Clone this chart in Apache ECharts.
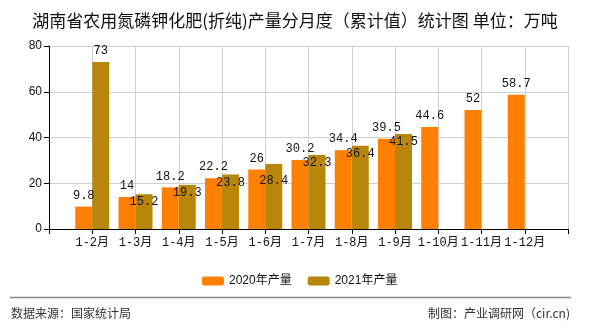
<!DOCTYPE html>
<html><head><meta charset="utf-8">
<script src="https://cdn.jsdelivr.net/npm/echarts@6/dist/echarts.min.js"></script>
<style>html,body{margin:0;padding:0;background:#fff}#c{width:590px;height:330px}</style>
</head><body><div id="c"></div>
<script>
const categories = ['', '1-2月','1-3月','1-4月','1-5月','1-6月','1-7月','1-8月','1-9月','1-10月','1-11月','1-12月', ''];
const values2020 = ['-', 9.8, 14, 18.2, 22.2, 26, 30.2, 34.4, 39.5, 44.6, 52, 58.7, '-'];
const values2021 = ['-', 73, 15.2, 19.3, 23.8, 28.4, 32.3, 36.4, 41.5, '-', '-', '-', '-'];
const yTicks = [0, 20, 40, 60, 80];
const seriesNames = ['2020年产量', '2021年产量'];

const labelOffsets2021 = [0, 0, 19, 19, 19, 28, 19, 19, 19, 0, 0, 0, 0];

const monoFont = 'Liberation Mono, Noto Sans CJK SC, monospace';
const chart = echarts.init(document.getElementById('c'), null, {renderer: 'canvas'});
chart.setOption({
  animation: false,
  backgroundColor: '#fff',
  title: {
    text: '湖南省农用氮磷钾化肥(折纯)产量分月度（累计值）统计图 单位：万吨',
    left: 'center', top: 7,
    textStyle: {fontSize: 17, fontWeight: 'normal', color: '#111', fontFamily: 'Noto Sans CJK SC'}
  },
  legend: {
    left: 197, top: 270,
    itemWidth: 22, itemHeight: 9, itemGap: 16,
    textStyle: {fontSize: 12, color: '#111', fontFamily: 'Liberation Sans, Noto Sans CJK SC'},
    data: seriesNames
  },
  grid: {left: 49, right: 22, top: 46, bottom: 101},
  xAxis: {
    type: 'category', data: categories, boundaryGap: false,
    axisLine: {lineStyle: {color: '#000', width: 1}},
    axisTick: {show: true, length: 5, lineStyle: {color: '#000'}},
    axisLabel: {interval: 0, color: '#111', fontSize: 12, fontFamily: monoFont, margin: 8},
    splitLine: {show: true, lineStyle: {color: '#d0d0d0'}}
  },
  yAxis: {
    type: 'value', min: yTicks[0], max: yTicks[yTicks.length-1], interval: 20,
    axisLine: {show: true, lineStyle: {color: '#000'}},
    axisTick: {show: true, length: 5, lineStyle: {color: '#000'}},
    axisLabel: {color: '#111', fontSize: 12, fontFamily: 'Liberation Sans, Arial', margin: 7},
    splitLine: {lineStyle: {color: '#d0d0d0'}}
  },
  series: [
    {
      name: seriesNames[0], type: 'bar', data: values2020,
      barWidth: 17, barGap: '0%',
      itemStyle: {color: '#FF8000'},
      label: {show: true, position: 'top', distance: 5, color: '#111', fontSize: 12, fontFamily: monoFont}
    },
    {
      name: seriesNames[1], type: 'bar',
      data: values2021.map((v, i) => ({
        value: v,
        label: {offset: [0, labelOffsets2021[i]]}
      })),
      barWidth: 17, barGap: '0%',
      itemStyle: {color: '#B8860B'},
      label: {show: true, position: 'top', distance: 5, color: '#111', fontSize: 12, fontFamily: monoFont}
    }
  ],
  graphic: [
    {type: 'line', shape: {x1: 10, y1: 297.5, x2: 571, y2: 297.5}, style: {stroke: '#888', lineWidth: 1.5}},
    {type: 'text', left: 11, top: 307, style: {text: '数据来源：国家统计局', font: '12px "Noto Sans CJK SC"', fill: '#333'}},
    {type: 'text', right: 20, top: 307, style: {text: '制图：产业调研网（cir.cn)', font: '12px "Noto Sans CJK SC"', fill: '#333'}}
  ]
});
</script>
</body></html>
